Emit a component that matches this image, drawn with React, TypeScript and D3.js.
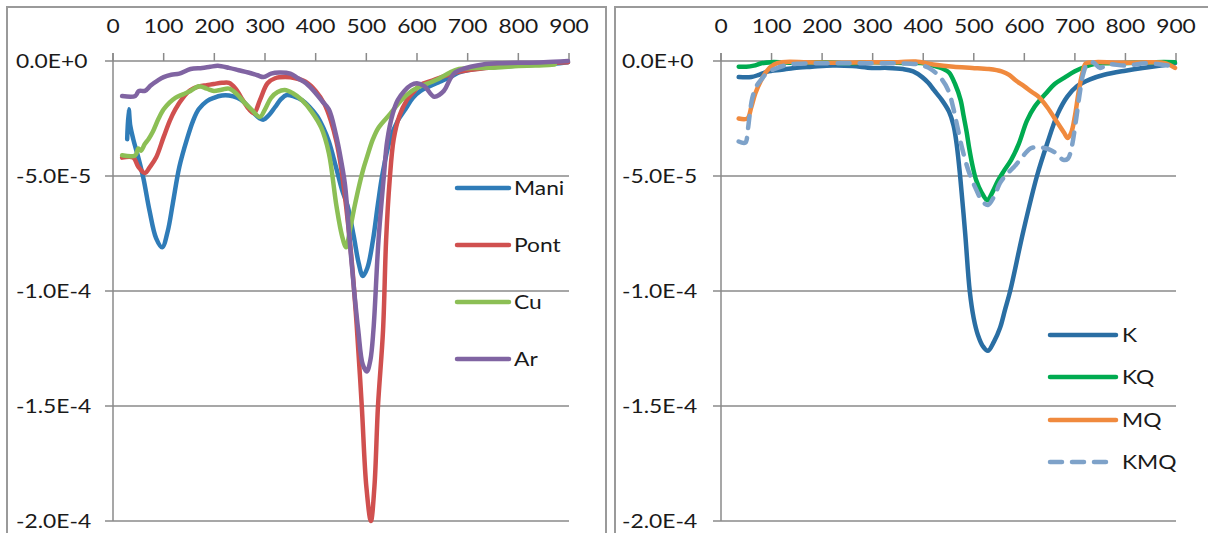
import React from "react";
import * as d3 from "d3";

// values in units of 1e-5
const xTicks = [0, 100, 200, 300, 400, 500, 600, 700, 800, 900];
const yTicks = [0, -5, -10, -15, -20];
const yTickLabels = ["0.0E+0", "-5.0E-5", "-1.0E-4", "-1.5E-4", "-2.0E-4"];

const mani: [number, number][] = [[28,-3.4],[31,-2.1],[34,-2.8],[40,-3.4],[50,-4.2],[60,-5.1],[72,-6.5],[85,-7.7],[97,-8.1],[108,-7.4],[118,-6.2],[131,-4.6],[146,-3.4],[158,-2.6],[169,-2.1],[185,-1.75],[199,-1.6],[215,-1.5],[229,-1.5],[245,-1.6],[259,-1.8],[275,-2.2],[290,-2.5],[297,-2.55],[308,-2.35],[320,-2.0],[332,-1.65],[343,-1.48],[358,-1.55],[373,-1.7],[388,-2.0],[403,-2.4],[415,-2.9],[426,-3.5],[440,-4.6],[452,-5.6],[463,-6.3],[475,-7.6],[485,-8.8],[493,-9.35],[502,-9.0],[513,-7.8],[523,-6.2],[532,-4.9],[547,-3.4],[562,-2.6],[577,-2.1],[592,-1.6],[607,-1.3],[625,-1.1],[645,-0.9],[665,-0.7],[683,-0.5],[700,-0.4],[730,-0.3],[760,-0.25],[800,-0.2],[840,-0.15],[870,-0.12],[898,-0.05]];
const pont: [number, number][] = [[18,-4.2],[40,-4.2],[50,-4.6],[63,-4.87],[73,-4.6],[85,-4.2],[100,-3.3],[112,-2.6],[123,-2.1],[138,-1.6],[153,-1.26],[170,-1.1],[185,-1.05],[199,-1.0],[215,-0.95],[229,-0.95],[242,-1.2],[252,-1.55],[265,-2.0],[278,-2.27],[290,-1.7],[305,-0.97],[320,-0.75],[340,-0.7],[360,-0.75],[380,-0.9],[400,-1.3],[418,-1.9],[430,-2.6],[441,-3.5],[450,-4.6],[460,-6.3],[470,-8.4],[481,-11.5],[491,-15],[500,-18.5],[509,-20],[516,-18.5],[523,-15],[533,-11.7],[539,-7.8],[546,-5.2],[554,-3.4],[565,-2.4],[580,-1.7],[595,-1.3],[606,-1.05],[630,-0.85],[655,-0.65],[683,-0.47],[720,-0.35],[758,-0.25],[800,-0.18],[850,-0.1],[898,-0.05]];
const cu: [number, number][] = [[18,-4.1],[44,-4.1],[50,-3.8],[55,-3.9],[63,-3.6],[70,-3.4],[78,-3.1],[90,-2.5],[100,-2.1],[112,-1.8],[123,-1.6],[138,-1.45],[153,-1.3],[169,-1.1],[185,-1.2],[199,-1.3],[214,-1.25],[229,-1.2],[245,-1.45],[259,-1.8],[275,-2.15],[290,-2.43],[300,-2.1],[312,-1.6],[325,-1.35],[339,-1.26],[355,-1.4],[373,-1.7],[392,-2.2],[411,-2.9],[426,-4.0],[441,-6.3],[452,-7.6],[460,-8.1],[468,-7.3],[477,-6.3],[486,-5.4],[494,-4.7],[501,-4.2],[513,-3.4],[524,-2.9],[547,-2.3],[569,-1.7],[590,-1.3],[607,-1.1],[630,-0.9],[645,-0.75],[665,-0.5],[683,-0.35],[720,-0.3],[758,-0.28],[800,-0.22],[834,-0.2],[872,-0.15]];
const ar: [number, number][] = [[18,-1.52],[44,-1.52],[51,-1.3],[63,-1.3],[75,-1.05],[88,-0.85],[100,-0.7],[115,-0.6],[131,-0.55],[153,-0.35],[176,-0.3],[192,-0.25],[207,-0.21],[229,-0.3],[248,-0.4],[267,-0.5],[285,-0.62],[297,-0.7],[312,-0.55],[328,-0.5],[350,-0.55],[365,-0.75],[381,-0.97],[400,-1.4],[413,-1.75],[426,-2.1],[440,-3.2],[450,-4.3],[458,-5.4],[467,-7.8],[476,-10],[484,-11.7],[493,-13.2],[501,-13.5],[508,-13],[514,-11.7],[524,-7.8],[535,-4.9],[541,-3.5],[552,-2.3],[562,-1.7],[575,-1.3],[588,-1.05],[600,-0.97],[615,-1.1],[634,-1.55],[653,-1.3],[665,-0.8],[675,-0.5],[690,-0.35],[706,-0.25],[730,-0.15],[758,-0.1],[800,-0.08],[850,-0.05],[898,0]];

const k: [number, number][] = [[35,-0.7],[60,-0.7],[75,-0.6],[91,-0.47],[120,-0.38],[145,-0.3],[180,-0.25],[221,-0.2],[260,-0.22],[298,-0.3],[330,-0.3],[360,-0.35],[380,-0.45],[398,-0.7],[410,-0.95],[421,-1.26],[437,-1.7],[451,-2.2],[460,-2.8],[466,-3.6],[473,-5.0],[483,-7.5],[492,-10.0],[500,-11.2],[508,-11.9],[518,-12.4],[528,-12.6],[540,-12.2],[552,-11.6],[562,-10.8],[572,-10.0],[598,-7.4],[625,-5.0],[645,-3.6],[666,-2.3],[685,-1.55],[704,-1.1],[730,-0.8],[758,-0.6],[800,-0.42],[834,-0.3],[870,-0.2],[898,-0.1]];
const kq: [number, number][] = [[35,-0.25],[50,-0.25],[65,-0.2],[80,-0.1],[100,-0.05],[150,-0.08],[200,-0.05],[250,-0.1],[300,-0.05],[350,-0.08],[400,-0.1],[420,-0.2],[440,-0.35],[451,-0.5],[463,-1.0],[474,-1.7],[480,-2.4],[486,-3.1],[491,-3.8],[497,-4.5],[505,-5.2],[515,-5.7],[527,-6.05],[537,-5.7],[548,-5.2],[559,-4.8],[574,-4.3],[589,-3.6],[605,-2.6],[620,-2.0],[643,-1.4],[660,-1.0],[681,-0.7],[700,-0.45],[720,-0.25],[740,-0.12],[780,-0.1],[820,-0.08],[860,-0.05],[898,-0.05]];
const mq: [number, number][] = [[35,-2.5],[52,-2.5],[60,-2.0],[68,-1.4],[78,-0.9],[90,-0.45],[105,-0.15],[120,-0.05],[170,-0.05],[230,-0.08],[290,-0.05],[350,-0.05],[385,-0.02],[420,-0.15],[460,-0.25],[497,-0.3],[530,-0.35],[555,-0.45],[570,-0.6],[582,-0.83],[600,-1.1],[615,-1.35],[628,-1.55],[645,-2.0],[666,-2.7],[678,-3.1],[686,-3.35],[693,-3.1],[700,-2.4],[707,-1.4],[714,-0.6],[722,-0.1],[740,-0.05],[800,-0.08],[850,-0.05],[880,-0.1],[898,-0.3]];
const kmq: [number, number][] = [[35,-3.5],[48,-3.55],[53,-3.0],[57,-2.3],[62,-1.6],[70,-1.1],[80,-0.8],[92,-0.5],[106,-0.35],[125,-0.2],[150,-0.12],[200,-0.1],[250,-0.1],[300,-0.1],[350,-0.1],[390,-0.15],[415,-0.35],[436,-0.78],[450,-1.3],[459,-2.0],[467,-2.8],[477,-3.8],[490,-4.8],[505,-5.6],[517,-6.1],[528,-6.26],[540,-5.9],[552,-5.3],[566,-4.9],[580,-4.6],[595,-4.2],[612,-3.8],[630,-3.75],[650,-3.85],[665,-4.05],[677,-4.3],[686,-4.25],[694,-3.7],[702,-2.6],[709,-1.5],[716,-0.6],[724,-0.15],[735,-0.05],[750,-0.3],[765,-0.15],[800,-0.2],[840,-0.1],[870,-0.15],[898,-0.25]];

const leftNames = ["Mani", "Pont", "Cu", "Ar"];
const rightNames = ["K", "KQ", "MQ", "KMQ"];

type Series = { name: string; data: [number, number][]; color: string; dash?: string };

const leftSeries: Series[] = [
  { name: leftNames[0], data: mani, color: "#2f7cb8" },
  { name: leftNames[1], data: pont, color: "#d0504f" },
  { name: leftNames[2], data: cu, color: "#8cbf55" },
  { name: leftNames[3], data: ar, color: "#8064a2" },
];
const rightSeries: Series[] = [
  { name: rightNames[0], data: k, color: "#2a6ea3" },
  { name: rightNames[1], data: kq, color: "#00ab50" },
  { name: rightNames[2], data: mq, color: "#f08a3e" },
  { name: rightNames[3], data: kmq, color: "#7ea2c9", dash: "12 10" },
];

const FONT = "Lato, 'Open Sans', sans-serif";
const FS = 19;
const SX = 1.2;
const AXIS = "#8a8a8a";
const TXT = "#1a1a1a";
const LW = 4.5;

function Label({ x, y, text, anchor }: { x: number; y: number; text: string; anchor: string }) {
  return (
    <g transform={`translate(${x},${y}) scale(${SX},1)`}>
      <text x={0} y={0} textAnchor={anchor} fontFamily={FONT} fontSize={FS} fill={TXT}>
        {text}
      </text>
    </g>
  );
}

function Panel({
  px0, px1, labelX, series, legend,
}: {
  px0: number; px1: number; labelX: number; series: Series[];
  legend: { x0: number; x1: number; tx: number; ys: number[] };
}) {
  const x = d3.scaleLinear().domain([0, 900]).range([px0, px1]);
  const y = d3.scaleLinear().domain([-20, 0]).range([521, 61]);
  const line = d3
    .line<[number, number]>()
    .x((d) => x(d[0]))
    .y((d) => y(d[1]))
    .curve(d3.curveCatmullRom.alpha(0.5));
  return (
    <g>
      {yTicks.map((t, i) => (
        <g key={"y" + i}>
          <line x1={px0 - 8} x2={px1} y1={y(t)} y2={y(t)} stroke={AXIS} strokeWidth={1.5} />
          <Label x={labelX} y={y(t) + 7} text={yTickLabels[i]} anchor="start" />
        </g>
      ))}
      <line x1={px0} x2={px0} y1={53} y2={y(-20)} stroke={AXIS} strokeWidth={1.5} />
      {xTicks.map((t) => (
        <g key={"x" + t}>
          <line x1={x(t)} x2={x(t)} y1={53} y2={61} stroke={AXIS} strokeWidth={1.5} />
          <Label x={x(t)} y={33} text={String(t)} anchor="middle" />
        </g>
      ))}
      {series.map((s) => (
        <path key={s.name} d={line(s.data) || ""} fill="none" stroke={s.color} strokeWidth={LW}
          strokeLinecap="round" strokeLinejoin="round" strokeDasharray={s.dash} />
      ))}
      {series.map((s, i) => (
        <g key={"lg" + s.name}>
          <line x1={legend.x0} x2={legend.x1} y1={legend.ys[i]} y2={legend.ys[i]} stroke={s.color}
            strokeWidth={LW} strokeLinecap="round" strokeDasharray={s.dash} />
          <Label x={legend.tx} y={legend.ys[i] + 7} text={s.name} anchor="start" />
        </g>
      ))}
    </g>
  );
}

export default function App() {
  return (
    <svg width={1208} height={533} style={{ position: "absolute", left: 0, top: 0, background: "#fff" }}>
      <rect x={0} y={0} width={1208} height={533} fill="#fff" />
      <path d="M7,540 V7 H606 V540" fill="none" stroke="#9a9a9a" strokeWidth={2} />
      <path d="M615,540 V7 H1215" fill="none" stroke="#9a9a9a" strokeWidth={2} />
      <Panel px0={113} px1={569} labelX={16} series={leftSeries}
        legend={{ x0: 457, x1: 509, tx: 514, ys: [188, 245, 302, 359] }} />
      <Panel px0={721} px1={1176} labelX={622} series={rightSeries}
        legend={{ x0: 1050, x1: 1116, tx: 1122, ys: [335, 377, 420, 462] }} />
    </svg>
  );
}
